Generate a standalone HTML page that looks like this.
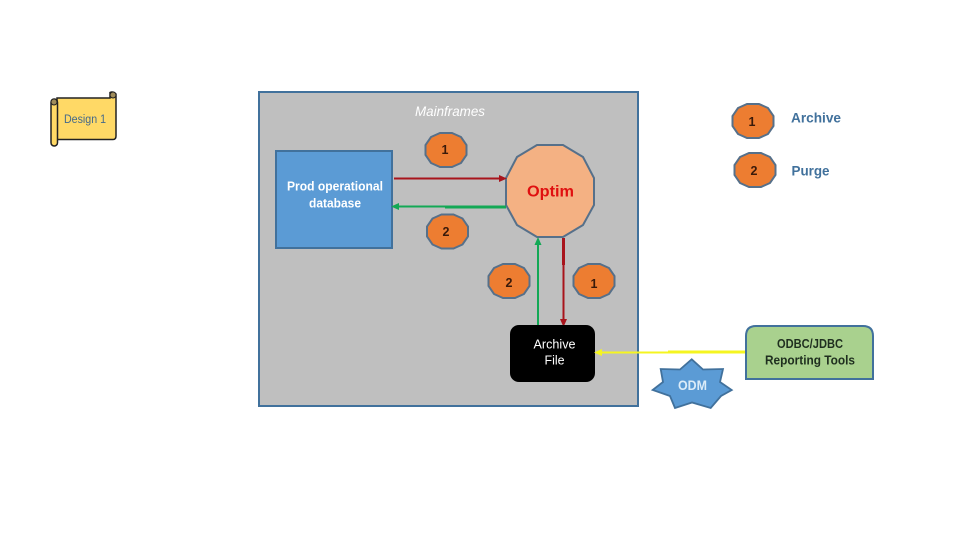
<!DOCTYPE html>
<html>
<head>
<meta charset="utf-8">
<style>
html,body{margin:0;padding:0;background:#fff}
svg{display:block}
text{font-family:"Liberation Sans",sans-serif;text-anchor:middle}
</style>
</head>
<body>
<svg width="960" height="540" viewBox="0 0 960 540" xmlns="http://www.w3.org/2000/svg">
<defs>
<polygon id="b" points="-6,-17 6,-17 15,-13 20.5,-5 20.5,5 15,13 6,17 -6,17 -15,13 -20.5,5 -20.5,-5 -15,-13" fill="#ed7d31" stroke="#56708a" stroke-width="2"/>
</defs>

<!-- scroll -->
<path d="M57 98 H110 V92.5 Q113 91 116 94 V136 Q116 139.500 113 139.500 H57 Z" fill="#ffd966" stroke="#222" stroke-width="1.500"/>
<rect x="51" y="99" width="6.500" height="47" rx="3.200" fill="#ffd966" stroke="#222" stroke-width="1.500"/>
<circle cx="54" cy="102" r="3" fill="#a08c5a" stroke="#222" stroke-width="1"/>
<circle cx="113" cy="95" r="3" fill="#a08c5a" stroke="#222" stroke-width="1"/>
<text x="85" y="123" font-size="11.500" fill="#44698a" textLength="42" lengthAdjust="spacingAndGlyphs">Design 1</text>

<!-- main container -->
<rect x="259" y="92" width="379" height="314" fill="#bfbfbf" stroke="#41719c" stroke-width="2"/>
<text x="450" y="116" font-size="14" font-style="italic" fill="#fff" textLength="70" lengthAdjust="spacingAndGlyphs">Mainframes</text>

<!-- prod db -->
<rect x="276" y="151" width="116" height="97" fill="#5b9bd5" stroke="#41719c" stroke-width="2"/>
<text x="335" y="190.500" font-size="13" font-weight="bold" fill="#fff" textLength="96" lengthAdjust="spacingAndGlyphs">Prod operational</text>
<text x="335" y="207.500" font-size="13" font-weight="bold" fill="#fff" textLength="52" lengthAdjust="spacingAndGlyphs">database</text>

<!-- optim -->
<polygon points="537,145 563,145 583,157 594,178 594,205 583,225 563,237 537,237 517,225 506,205 506,178 517,157" fill="#f4b183" stroke="#56708a" stroke-width="2"/>
<text x="550.500" y="196.500" font-size="16" font-weight="bold" fill="#e01010" textLength="47" lengthAdjust="spacingAndGlyphs">Optim</text>

<!-- red horizontal -->
<line x1="394" y1="178.500" x2="501" y2="178.500" stroke="#a8141c" stroke-width="2"/>
<polygon points="499,175 507,178.500 499,182" fill="#a8141c"/>
<!-- green horizontal -->
<line x1="397" y1="206.500" x2="446" y2="206.500" stroke="#13a855" stroke-width="2"/>
<line x1="445" y1="207" x2="506" y2="207" stroke="#13a855" stroke-width="3"/>
<polygon points="391,206.500 399,203 399,210" fill="#13a855"/>
<!-- green vertical -->
<line x1="538" y1="326" x2="538" y2="243" stroke="#13a855" stroke-width="2"/>
<polygon points="538,237 534.500,245 541.500,245" fill="#13a855"/>
<!-- red vertical -->
<line x1="563.500" y1="238" x2="563.500" y2="265" stroke="#a8141c" stroke-width="3"/>
<line x1="563.500" y1="265" x2="563.500" y2="321" stroke="#a8141c" stroke-width="2"/>
<polygon points="560,319 567,319 563.500,327" fill="#a8141c"/>

<!-- badges -->
<use href="#b" x="446" y="150"/>
<use href="#b" x="447.500" y="231.500"/>
<use href="#b" x="509" y="281"/>
<use href="#b" x="594" y="281"/>
<use href="#b" x="753" y="121"/>
<use href="#b" x="755" y="170"/>
<g font-size="12.500" font-weight="bold" fill="#3a1a0a">
<text x="445" y="154">1</text>
<text x="446" y="236">2</text>
<text x="509" y="287">2</text>
<text x="594" y="288">1</text>
<text x="752" y="126">1</text>
<text x="754" y="175">2</text>
</g>

<!-- legend -->
<text x="816" y="122.500" font-size="14" font-weight="bold" fill="#41719c" textLength="50" lengthAdjust="spacingAndGlyphs">Archive</text>
<text x="810.500" y="175.500" font-size="14" font-weight="bold" fill="#41719c" textLength="38" lengthAdjust="spacingAndGlyphs">Purge</text>

<!-- archive file -->
<rect x="510" y="325" width="85" height="57" rx="9" fill="#000"/>
<text x="554.500" y="348.500" font-size="13" fill="#fff" textLength="42" lengthAdjust="spacingAndGlyphs">Archive</text>
<text x="554.500" y="364.500" font-size="13" fill="#fff" textLength="20" lengthAdjust="spacingAndGlyphs">File</text>

<!-- yellow connector -->
<line x1="602" y1="352.500" x2="668" y2="352.500" stroke="#f5f520" stroke-width="2"/>
<line x1="668" y1="352" x2="747" y2="352" stroke="#f5f520" stroke-width="3"/>
<polygon points="594,352.500 602,349 602,356" fill="#f5f520"/>

<!-- odbc -->
<path d="M746 379 V336 Q746 326 756 326 H863 Q873 326 873 336 V379 Z" fill="#a9d18e" stroke="#41719c" stroke-width="2"/>
<text x="810" y="348" font-size="12.500" font-weight="bold" fill="#1f2f1f" textLength="66" lengthAdjust="spacingAndGlyphs">ODBC/JDBC</text>
<text x="810" y="364.500" font-size="12.500" font-weight="bold" fill="#1f2f1f" textLength="90" lengthAdjust="spacingAndGlyphs">Reporting Tools</text>

<!-- ODM star -->
<polygon points="691.700,359.300 703,369.500 723,369 720,382 731.700,390 721,396 710.700,408 692,402.500 675,408 670,396 652.700,390 663,382 660.700,369 680,369.500" fill="#5b9bd5" stroke="#41719c" stroke-width="1.800"/>
<text x="692.500" y="390" font-size="13.500" font-weight="bold" fill="#dcecf8" textLength="29" lengthAdjust="spacingAndGlyphs">ODM</text>
</svg>
</body>
</html>
